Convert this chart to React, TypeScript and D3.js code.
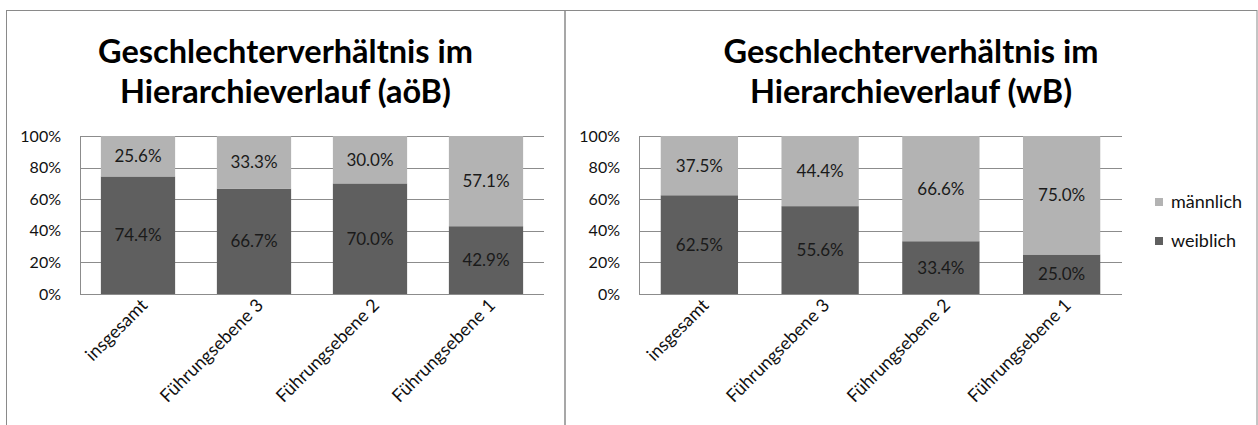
import React from "react";
import * as d3 from "d3";

const categories = ["insgesamt", "Führungsebene 3", "Führungsebene 2", "Führungsebene 1"];
const weiblichAoeB = [74.4, 66.7, 70.0, 42.9];
const maennlichAoeB = [25.6, 33.3, 30.0, 57.1];
const weiblichWB = [62.5, 55.6, 33.4, 25.0];
const maennlichWB = [37.5, 44.4, 66.6, 75.0];
const yTicks = [0, 20, 40, 60, 80, 100];
const titleLeft = ["Geschlechterverhältnis im", "Hierarchieverlauf (aöB)"];
const titleRight = ["Geschlechterverhältnis im", "Hierarchieverlauf (wB)"];
const legendLabels = ["männlich", "weiblich"];

const DARK = "#5f5f5f";
const LIGHT = "#b3b3b3";
const GRID = "#8c8c8c";
const FONT = "Lato, 'Open Sans', sans-serif";

type PanelProps = {
  x0: number;
  x1: number;
  titleX: number;
  title: string[];
  weiblich: number[];
  maennlich: number[];
};

function Panel({ x0, x1, titleX, title, weiblich, maennlich }: PanelProps) {
  const yTop = 136;
  const yBot = 294;
  const x = d3.scaleBand<string>().domain(categories).range([x0, x1]).paddingInner(0.36).paddingOuter(0.18);
  const y = d3.scaleLinear().domain([0, 100]).range([yBot, yTop]);
  const fmt = (v: number) => v.toFixed(1) + "%";
  return (
    <g>
      {title.map((t, i) => (
        <text key={i} x={titleX} y={63 + i * 40} textAnchor="middle" fontFamily={FONT} fontWeight={700} fontSize={32.5} fill="#000">
          {t}
        </text>
      ))}
      {yTicks.map((t) => (
        <line key={"g" + t} x1={x0} x2={x1} y1={Math.round(y(t)) + 0.5} y2={Math.round(y(t)) + 0.5} stroke={GRID} strokeWidth={1} />
      ))}
      <line x1={x0 + 0.5} x2={x0 + 0.5} y1={yTop} y2={yBot + 0.5} stroke={GRID} strokeWidth={1} />
      {yTicks.map((t) => (
        <text key={"t" + t} x={x0 - 19} y={y(t)} dy="0.35em" textAnchor="end" fontFamily={FONT} fontSize={16} fill="#111">
          {t + "%"}
        </text>
      ))}
      {categories.map((c, i) => {
        const bx = x(c) as number;
        const bw = x.bandwidth();
        const w = weiblich[i];
        const m = maennlich[i];
        return (
          <g key={c}>
            <rect x={bx} width={bw} y={y(w)} height={y(0) - y(w)} fill={DARK} />
            <rect x={bx} width={bw} y={y(w + m)} height={y(w) - y(w + m)} fill={LIGHT} />
            <text x={bx + bw / 2} y={(y(0) + y(w)) / 2} dy="0.35em" textAnchor="middle" fontFamily={FONT} fontSize={17} fill="#1a1a1a">
              {fmt(w)}
            </text>
            <text x={bx + bw / 2} y={(y(w) + y(w + m)) / 2} dy="0.35em" textAnchor="middle" fontFamily={FONT} fontSize={17} fill="#1a1a1a">
              {fmt(m)}
            </text>
            <text
              transform={`translate(${bx + bw / 2 + 6},${yBot + 8}) rotate(-45)`}
              dy="0.35em"
              textAnchor="end"
              fontFamily={FONT}
              fontSize={18}
              fill="#111"
            >
              {c}
            </text>
          </g>
        );
      })}
    </g>
  );
}

export default function App() {
  const legendColors = [LIGHT, DARK];
  return (
    <svg width={1258} height={425} style={{ position: "fixed", left: 0, top: 0, background: "#fff" }}>
      <rect x={0} y={0} width={1258} height={425} fill="#fff" />
      <rect x={6.5} y={10.5} width={558.5} height={430} fill="none" stroke="#8a8a8a" strokeWidth={1} />
      <rect x={565} y={10.5} width={692} height={430} fill="none" stroke="#8a8a8a" strokeWidth={1} />
      <Panel x0={80} x1={544} titleX={285.5} title={titleLeft} weiblich={weiblichAoeB} maennlich={maennlichAoeB} />
      <Panel x0={639} x1={1122} titleX={911} title={titleRight} weiblich={weiblichWB} maennlich={maennlichWB} />
      {legendLabels.map((l, i) => (
        <g key={l}>
          <rect x={1155} y={198 + i * 39} width={8} height={8} fill={legendColors[i]} />
          <text x={1171} y={202 + i * 39} dy="0.35em" fontFamily={FONT} fontSize={18} fill="#111">
            {l}
          </text>
        </g>
      ))}
    </svg>
  );
}
